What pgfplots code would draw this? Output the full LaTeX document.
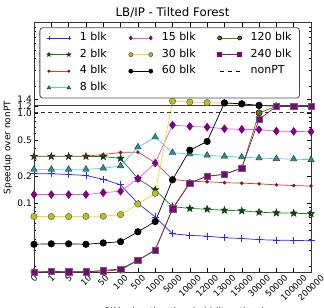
\documentclass[border=0pt]{standalone}
\usepackage{pgfplots}
\pgfplotsset{compat=1.18}
\usepackage{fontspec}
\setmainfont{DejaVu Sans}
\usetikzlibrary{plotmarks}

\definecolor{cblue}{RGB}{40,40,255}
\definecolor{cgreenl}{RGB}{40,120,40}
\definecolor{cgreenm}{RGB}{10,70,10}
\definecolor{credl}{RGB}{215,60,60}
\definecolor{credm}{RGB}{140,20,20}
\definecolor{ccyanl}{RGB}{80,210,210}
\definecolor{ccyanm}{RGB}{30,150,150}
\definecolor{cviol}{RGB}{230,90,230}
\definecolor{cpurp}{RGB}{128,0,128}
\definecolor{cyell}{RGB}{225,225,40}
\definecolor{cyellm}{RGB}{190,190,30}
\definecolor{colive}{RGB}{110,110,20}
\definecolor{cmaroon}{RGB}{130,30,100}

\pgfdeclareplotmark{fstar}{%
  \pgfpathmoveto{\pgfpointpolar{90}{\pgfplotmarksize}}%
  \pgfpathlineto{\pgfpointpolar{126}{0.42\pgfplotmarksize}}%
  \pgfpathlineto{\pgfpointpolar{162}{\pgfplotmarksize}}%
  \pgfpathlineto{\pgfpointpolar{198}{0.42\pgfplotmarksize}}%
  \pgfpathlineto{\pgfpointpolar{234}{\pgfplotmarksize}}%
  \pgfpathlineto{\pgfpointpolar{270}{0.42\pgfplotmarksize}}%
  \pgfpathlineto{\pgfpointpolar{306}{\pgfplotmarksize}}%
  \pgfpathlineto{\pgfpointpolar{342}{0.42\pgfplotmarksize}}%
  \pgfpathlineto{\pgfpointpolar{18}{\pgfplotmarksize}}%
  \pgfpathlineto{\pgfpointpolar{54}{0.42\pgfplotmarksize}}%
  \pgfpathclose\pgfusepathqfillstroke}

\pgfplotstableread{
x   b1      b2      b4     b8     b15    b30    b60    b120   b240
0   0.211   0.329   0.331  0.236  0.124  0.0707 0.0348 0.0172 0.0170
1   0.211   0.329   0.331  0.236  0.124  0.0707 0.0352 0.0173 0.0174
2   0.207   0.329   0.331  0.236  0.124  0.0707 0.0352 0.0172 0.0172
3   0.202   0.329   0.331  0.236  0.124  0.0710 0.0348 0.0172 0.0172
4   0.183   0.327   0.345  0.243  0.130  0.0712 0.0360 0.0176 0.0178
5   0.159   0.313   0.364  0.257  0.135  0.0743 0.0372 0.0180 0.0185
6   0.099   0.186   0.367  0.417  0.186  0.0975 0.0479 0.0231 0.0231
7   0.070   0.140   0.280  0.538  0.277  0.128  0.0622 0.0300 0.0300
8   0.0455  0.0910  0.183  0.362  0.733  1.35   0.181  0.0860 0.0860
9   0.0437  0.0870  0.174  0.349  0.708  1.32   0.386  0.167  0.167
10  0.0428  0.0853  0.172  0.338  0.695  1.30   0.482  0.198  0.198
11  0.0411  0.0830  0.168  0.329  0.667  1.29   1.29   0.208  0.208
12  0.0404  0.0818  0.166  0.323  0.656  1.26   1.26   0.244  0.244
13  0.0391  0.0790  0.163  0.315  0.651  1.21   1.21   1.00   0.847
14  0.0387  0.0776  0.159  0.310  0.628  1.19   1.19   1.18   1.18
15  0.0384  0.0770  0.156  0.307  0.623  1.18   1.18   1.18   1.18
16  0.0381  0.0759  0.154  0.302  0.618  1.18   1.18   1.18   1.18
}\datatab

\begin{document}
\begin{tikzpicture}
\begin{axis}[
  at={(0,0)}, anchor=south west,
  scale only axis, width=277pt, height=249.5pt,
  xmin=0, xmax=16,
  ymode=log, ymin=0.017, ymax=10,
  xtick={0,...,16},
  xticklabels={\rotatebox{45}{0},\rotatebox{45}{1},\rotatebox{45}{5},\rotatebox{45}{10},\rotatebox{45}{50},\rotatebox{45}{100},\rotatebox{45}{500},\rotatebox{45}{1000},\rotatebox{45}{5000},\rotatebox{45}{10000},\rotatebox{45}{12000},\rotatebox{45}{13000},\rotatebox{45}{15000},\rotatebox{45}{30000},\rotatebox{45}{50000},\rotatebox{45}{100000},\rotatebox{45}{200000}},
  xticklabel style={anchor=north, font=\fontsize{8.6}{9}\selectfont, inner sep=1.5pt},
  ytick={0.1,0.2,0.5,1,1.2,1.4},
  yticklabels={0.1,0.2,0.5,1.0,1.2,1.4},
  yticklabel style={font=\fontsize{9}{9}\selectfont, inner sep=2pt},
  minor ytick={0.02,0.03,0.04,0.05,0.06,0.07,0.08,0.09,0.3,0.4,0.6,0.7,0.8,0.9,2,3,4,5,6,7,8,9},
  tick align=inside, tick pos=both,
  major tick length=4pt, minor tick length=2pt,
  every tick/.style={black, line width=0.5pt},
  axis line style={black!80, line width=0.8pt},
  ylabel={Speedup over nonPT},
  every axis y label/.style={at={(axis description cs:-0.094,0.5)}, rotate=90, anchor=center, font=\fontsize{9}{9}\selectfont},
  xlabel={PIM migration threshold (iterations)},
  every axis x label/.style={at={(axis description cs:0.545,0)}, anchor=north, yshift=-32pt, font=\fontsize{9}{9}\selectfont},
  title={LB/IP - Tilted Forest},
  every axis title/.style={at={(axis description cs:0.5,1)}, anchor=south, yshift=1.5pt, font=\fontsize{11.8}{12}\selectfont},
  legend columns=3,
  legend style={at={(axis description cs:0.49,1)}, anchor=north, yshift=-4.5pt,
    draw=black!70, line width=0.8pt, rounded corners=3pt, fill=white,
    inner xsep=7pt, inner ysep=2pt,
    font=\fontsize{11}{11}\selectfont,
    nodes={inner ysep=3pt, inner xsep=1pt, text height=8.1pt, text depth=2.5pt, anchor=west},
    /tikz/every odd column/.style={column sep=8pt},
    /tikz/every even column/.style={column sep=21pt}},
  legend image code/.code={\draw[mark size=2pt, line width=0.6pt] plot coordinates {(0pt,0pt) (20pt,0pt)};},
  clip=false,
]
% legend images (column-wise order of the original)
\addlegendimage{cblue, line width=0.7pt, mark=+, mark options={cblue}}
\addlegendentry{1 blk}
\addlegendimage{cviol, mark=diamond*, mark options={fill=cpurp, draw=cpurp}}
\addlegendentry{15 blk}
\addlegendimage{colive, mark=*, mark options={fill=colive, draw=black}}
\addlegendentry{120 blk}
\addlegendimage{cgreenl, mark=fstar, mark options={fill=cgreenm, draw=cgreenm}}
\addlegendentry{2 blk}
\addlegendimage{cyell, mark=*, mark options={fill=cyellm, draw=black!70}}
\addlegendentry{30 blk}
\addlegendimage{cmaroon, mark=square*, mark options={fill=cpurp, draw=cpurp}}
\addlegendentry{240 blk}
\addlegendimage{credl, mark=*, mark options={fill=credm, draw=credm, scale=0.6}}
\addlegendentry{4 blk}
\addlegendimage{black, mark=*, mark options={fill=black}}
\addlegendentry{60 blk}
\addlegendimage{black, dashed, dash pattern=on 4pt off 4pt}
\addlegendentry{nonPT}
\addlegendimage{ccyanl, mark=triangle*, mark options={fill=ccyanm, draw=black!80}}
\addlegendentry{8 blk}

% data
\addplot[forget plot, cblue, line width=0.7pt, mark=+, mark size=3.5pt, mark options={cblue}] table[x=x,y=b1] {\datatab};
\addplot[forget plot, cgreenl, line width=0.7pt, mark=fstar, mark size=3.5pt, mark options={fill=cgreenm, draw=cgreenm}] table[x=x,y=b2] {\datatab};
\addplot[forget plot, credl, line width=0.7pt, mark=*, mark size=1.4pt, mark options={fill=credm, draw=credm}] table[x=x,y=b4] {\datatab};
\addplot[forget plot, ccyanl, line width=0.7pt, mark=triangle*, mark size=3.8pt, mark options={fill=ccyanm, draw=black!80, line width=0.4pt}] table[x=x,y=b8] {\datatab};
\addplot[forget plot, cviol, line width=0.7pt, mark=diamond*, mark size=3.8pt, mark options={fill=cpurp, draw=cpurp}] table[x=x,y=b15] {\datatab};
\addplot[forget plot, cyell, line width=0.7pt, mark=*, mark size=3.2pt, mark options={fill=cyellm, draw=black!70, line width=0.4pt}] table[x=x,y=b30] {\datatab};
\addplot[forget plot, black, line width=0.7pt, mark=*, mark size=3.2pt, mark options={fill=black}] table[x=x,y=b60] {\datatab};
\addplot[forget plot, colive, line width=0.7pt, mark=*, mark size=3.2pt, mark options={fill=colive, draw=black, line width=0.4pt}] table[x=x,y=b120] {\datatab};
\addplot[forget plot, cmaroon, line width=0.7pt, mark=square*, mark size=3.2pt, mark options={fill=cpurp, draw=black!60, line width=0.4pt}] table[x=x,y=b240] {\datatab};
\addplot[forget plot, black!80, line width=0.8pt, dash pattern=on 4pt off 3pt] coordinates {(0,1) (16,1)};
\addplot[forget plot, black!75, line width=0.8pt] coordinates {(0,1.2) (16,1.2)};
\end{axis}
\pgfresetboundingbox
\useasboundingbox (-34pt,-35pt) rectangle (290pt,272.3pt);
\end{tikzpicture}
\end{document}
